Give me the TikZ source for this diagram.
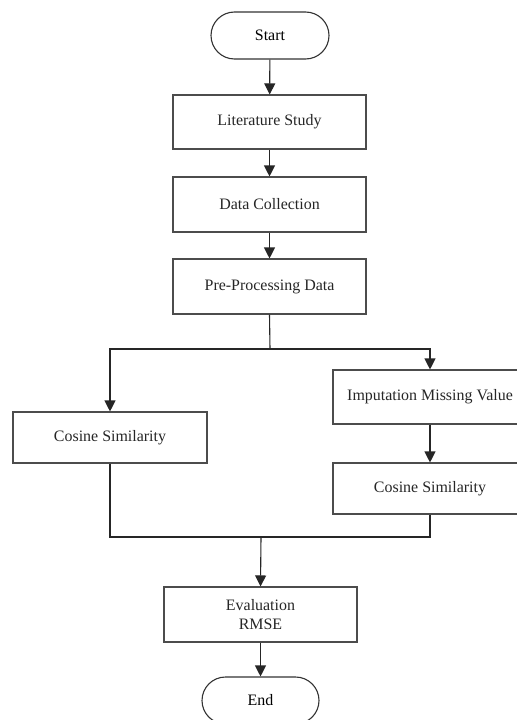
\documentclass[tikz,border=0pt]{standalone}
\usepackage{fontspec}
\setmainfont{Liberation Serif}
\usetikzlibrary{arrows.meta}
\begin{document}
\begin{tikzpicture}[x=1bp,y=-1bp,
  box/.style={draw=black!70, line width=1.1bp, minimum width=#1, minimum height=54bp, inner sep=0pt, text=black!85, font=\fontsize{16}{19}\selectfont, align=center},
  box/.default=193bp,
  term/.style={draw=black!80, line width=1.1bp, rounded corners=23.5bp, minimum width=#1, minimum height=47bp, inner sep=0pt, text=black, font=\fontsize{16}{19}\selectfont},
  conn/.style={draw=black!85, line width=1.1bp},
  arr/.style={conn, -{Triangle[length=11bp,width=11bp]}}]
\clip (0,0) rectangle (517,720);
\fill[white] (0,0) rectangle (517,720);
\node[term=118bp] (start) at (270,35.5) {Start};
\node[box] (lit) at (269.5,122) {Literature Study};
\node[box, minimum height=55bp] (data) at (269.5,204.5) {Data Collection};
\node[box, minimum height=55bp] (pre) at (269.5,286.5) {Pre-Processing Data};
\node[box=194bp, minimum height=51bp] (cosl) at (110,437.5) {Cosine Similarity};
\node[box=194bp] (imp) at (430,397) {Imputation Missing Value};
\node[box=194bp, minimum height=51bp] (cosr) at (430,488.5) {Cosine Similarity};
\node[box, minimum height=55bp] (eval) at (260.5,614.5) {Evaluation\\RMSE};
\node[term=117bp] (end) at (260.5,700.5) {End};
\coordinate (j1) at (270,349);
\coordinate (j2) at (261,537);
\draw[arr] (start) -- (lit);
\draw[arr] (lit) -- (data);
\draw[arr] (data) -- (pre);
\draw[conn] (pre.south) -- (j1);
\draw[arr] (j1) -| (cosl.north);
\draw[arr] (j1) -| (imp.north);
\draw[arr] (imp) -- (cosr);
\draw[conn] (cosl.south) |- (j2);
\draw[conn] (cosr.south) |- (j2);
\draw[arr] (j2) -- (eval.north);
\draw[arr] (eval) -- (end);
\end{tikzpicture}
\end{document}
